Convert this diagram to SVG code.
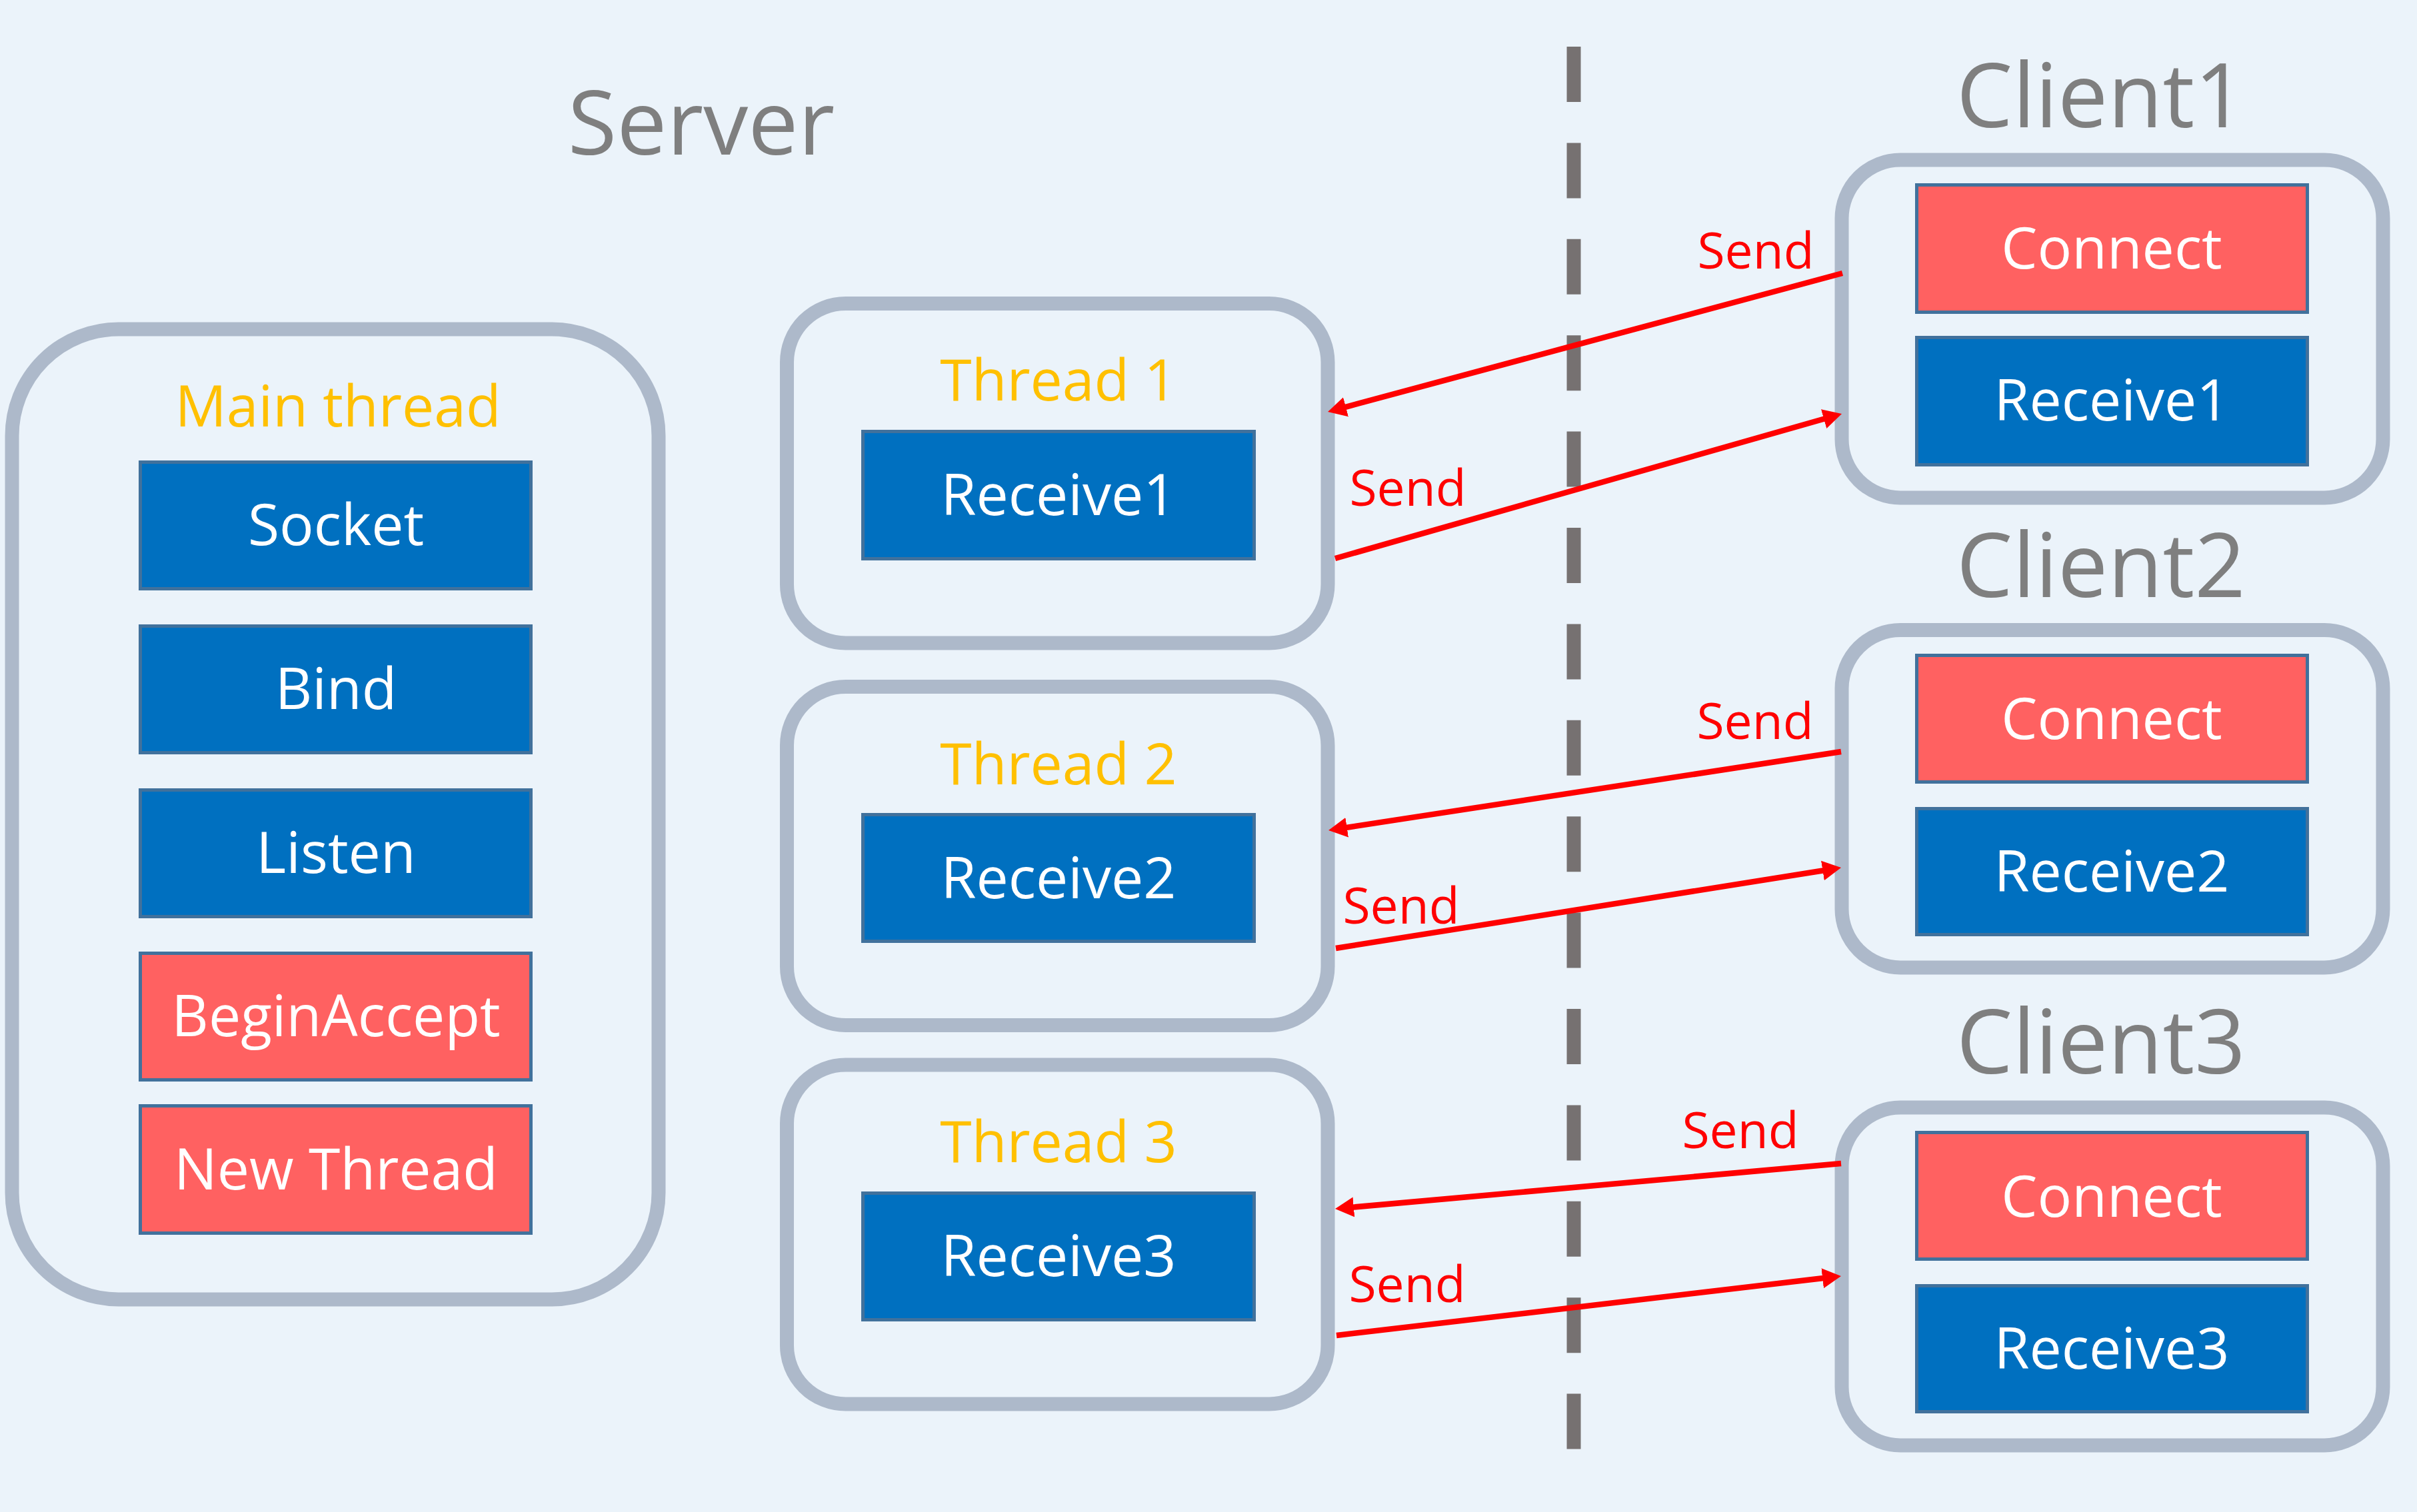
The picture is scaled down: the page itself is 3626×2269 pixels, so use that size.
<svg xmlns="http://www.w3.org/2000/svg" width="3626" height="2269" viewBox="0 0 3626 2269">
<defs>
<style>
.bg{fill:#EBF3FA}
.cont{fill:#EBF3FA;stroke:#ADB9CA;stroke-width:21}
.blue{fill:#0070C0;stroke:#41719C;stroke-width:5}
.red{fill:#FF6161;stroke:#41719C;stroke-width:5}
.t{font-family:"Open Sans","Noto Sans","Liberation Sans",sans-serif;text-anchor:middle}
.btxt{fill:#FFFFFF;font-size:86px}
.gold{fill:#FFC000;font-size:86px}
.big{fill:#7F7F7F;font-size:134px}
.send{fill:#FF0000;font-size:75px}
.arr{stroke:#FF0000;stroke-width:8.5;fill:none;marker-end:url(#ah)}
.dash{stroke:#767171;stroke-width:21;stroke-dasharray:83 61.4;fill:none}
</style>
<marker id="ah" markerUnits="userSpaceOnUse" markerWidth="30" markerHeight="32" refX="8" refY="15" orient="auto" viewBox="0 0 30 30">
<path d="M0,0 L28,15 L0,30 Z" fill="#FF0000"/>
</marker>
</defs>
<rect class="bg" x="0" y="0" width="3626" height="2269"/>

<text class="t big" x="1052" y="232" font-size="138">Server</text>
<path class="dash" d="M2361,70 L2361,2175"/>

<g id="main-thread">
<rect class="cont" x="18" y="494" width="970" height="1456" rx="160" ry="160"/>
<text class="t gold" x="507" y="640">Main thread</text>
</g>
<g id="socket">
<rect class="blue" x="210.5" y="693.5" width="586" height="190"/>
<text class="t btxt" x="504" y="818">Socket</text>
</g>
<g id="bind">
<rect class="blue" x="210.5" y="939.5" width="586" height="190"/>
<text class="t btxt" x="504" y="1064">Bind</text>
</g>
<g id="listen">
<rect class="blue" x="210.5" y="1185.5" width="586" height="190"/>
<text class="t btxt" x="504" y="1310">Listen</text>
</g>
<g id="beginaccept">
<rect class="red" x="210.5" y="1430.5" width="586" height="190"/>
<text class="t btxt" x="504" y="1555">BeginAccept</text>
</g>
<g id="newthread">
<rect class="red" x="210.5" y="1659.5" width="586" height="191"/>
<text class="t btxt" x="504" y="1785">New Thread</text>
</g>

<g id="thread1">
<rect class="cont" x="1180.5" y="455.5" width="811.5" height="509.5" rx="88" ry="88"/>
<text class="t gold" x="1588" y="601">Thread 1</text>
<rect class="blue" x="1294.5" y="647.5" width="587" height="191"/>
<text class="t btxt" x="1588" y="773">Receive1</text>
</g>
<g id="thread2">
<rect class="cont" x="1180.5" y="1030.5" width="811.5" height="508" rx="88" ry="88"/>
<text class="t gold" x="1588" y="1177">Thread 2</text>
<rect class="blue" x="1294.5" y="1222.5" width="587" height="190"/>
<text class="t btxt" x="1588" y="1348">Receive2</text>
</g>
<g id="thread3">
<rect class="cont" x="1180.5" y="1598" width="811.5" height="509" rx="88" ry="88"/>
<text class="t gold" x="1588" y="1744">Thread 3</text>
<rect class="blue" x="1294.5" y="1790.5" width="587" height="190"/>
<text class="t btxt" x="1588" y="1915">Receive3</text>
</g>

<g id="client1">
<text class="t big" x="3152" y="191">Client1</text>
<rect class="cont" x="2763" y="240" width="812" height="507" rx="88" ry="88"/>
<rect class="red" x="2875.5" y="277.5" width="586" height="191"/>
<text class="t btxt" x="3168" y="403">Connect</text>
<rect class="blue" x="2875.5" y="506.5" width="586" height="191"/>
<text class="t btxt" x="3168" y="631">Receive1</text>
</g>
<g id="client2">
<text class="t big" x="3152" y="896">Client2</text>
<rect class="cont" x="2763" y="945.5" width="812" height="506.5" rx="88" ry="88"/>
<rect class="red" x="2875.5" y="983.5" width="586" height="190"/>
<text class="t btxt" x="3168" y="1109">Connect</text>
<rect class="blue" x="2875.5" y="1213.5" width="586" height="189"/>
<text class="t btxt" x="3168" y="1338">Receive2</text>
</g>
<g id="client3">
<text class="t big" x="3152" y="1611">Client3</text>
<rect class="cont" x="2763" y="1662" width="812" height="507" rx="88" ry="88"/>
<rect class="red" x="2875.5" y="1699.5" width="586" height="190"/>
<text class="t btxt" x="3168" y="1826">Connect</text>
<rect class="blue" x="2875.5" y="1929.5" width="586" height="189"/>
<text class="t btxt" x="3168" y="2054">Receive3</text>
</g>

<g id="connectors">
<path class="arr" d="M2764,410 L2011.3,612.8"/>
<path class="arr" d="M2003,838 L2743.8,626.5"/>
<path class="arr" d="M2762,1128 L2012.8,1243"/>
<path class="arr" d="M2004,1423 L2742.3,1305.2"/>
<path class="arr" d="M2762,1746 L2022.9,1812.2"/>
<path class="arr" d="M2005,2004 L2742.1,1917.3"/>
<text class="t send" x="2634" y="403">Send</text>
<text class="t send" x="2112" y="759">Send</text>
<text class="t send" x="2633" y="1109">Send</text>
<text class="t send" x="2102" y="1386">Send</text>
<text class="t send" x="2611" y="1723">Send</text>
<text class="t send" x="2111" y="1954">Send</text>
</g>
</svg>
